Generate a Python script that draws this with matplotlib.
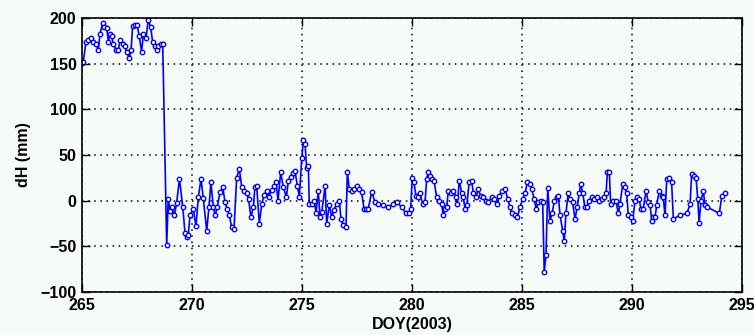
import matplotlib
matplotlib.use("Agg")
from matplotlib import pyplot as plt

# day of year (2003) and height change dH in mm
doy = [
    265.02, 265.06, 265.18, 265.29, 265.40, 265.51, 265.64, 265.74, 265.82, 265.94,
    266.01, 266.12, 266.20, 266.27, 266.35, 266.42, 266.55, 266.65, 266.73, 266.85,
    266.95, 267.03, 267.15, 267.23, 267.30, 267.41, 267.51, 267.60, 267.71, 267.79,
    267.91, 268.01, 268.12, 268.21, 268.32, 268.40, 268.47, 268.58, 268.67, 268.85,
    268.92, 269.00, 269.08, 269.20, 269.30, 269.43, 269.58, 269.68, 269.75, 269.83,
    269.91, 270.06, 270.18, 270.29, 270.41, 270.51, 270.67, 270.77, 270.86, 270.97,
    271.05, 271.15, 271.27, 271.40, 271.50, 271.60, 271.70, 271.80, 271.91, 272.03,
    272.15, 272.26, 272.38, 272.49, 272.57, 272.68, 272.79, 272.86, 272.94, 273.06,
    273.17, 273.27, 273.40, 273.49, 273.62, 273.73, 273.82, 273.91, 274.03, 274.15,
    274.29, 274.38, 274.49, 274.60, 274.68, 274.79, 274.88, 274.99, 275.06, 275.14,
    275.21, 275.29, 275.33, 275.44, 275.55, 275.64, 275.74, 275.82, 275.90, 276.05,
    276.12, 276.24, 276.35, 276.45, 276.58, 276.70, 276.77, 276.88, 277.00, 277.06,
    277.15, 277.26, 277.36, 277.49, 277.60, 277.71, 277.82, 277.91, 278.01, 278.17,
    278.32, 278.47, 278.67, 278.92, 279.15, 279.33, 279.53, 279.73, 279.88, 279.94,
    280.01, 280.09, 280.18, 280.29, 280.36, 280.49, 280.59, 280.67, 280.74, 280.82,
    280.90, 281.00, 281.12, 281.24, 281.35, 281.42, 281.50, 281.58, 281.65, 281.76,
    281.88, 282.00, 282.06, 282.15, 282.26, 282.33, 282.41, 282.49, 282.60, 282.71,
    282.79, 282.91, 283.01, 283.12, 283.24, 283.36, 283.47, 283.62, 283.73, 283.85,
    283.97, 284.08, 284.23, 284.35, 284.45, 284.53, 284.68, 284.79, 284.91, 285.03,
    285.14, 285.24, 285.36, 285.44, 285.55, 285.64, 285.74, 285.85, 285.94, 286.01,
    286.09, 286.17, 286.27, 286.38, 286.47, 286.58, 286.65, 286.73, 286.85, 286.92,
    287.00, 287.10, 287.18, 287.30, 287.41, 287.51, 287.60, 287.67, 287.76, 287.86,
    287.94, 288.06, 288.17, 288.27, 288.40, 288.51, 288.62, 288.73, 288.82, 288.88,
    288.97, 289.03, 289.15, 289.27, 289.38, 289.45, 289.58, 289.68, 289.76, 289.83,
    289.94, 290.03, 290.14, 290.24, 290.33, 290.40, 290.51, 290.64, 290.74, 290.82,
    290.90, 290.97, 291.05, 291.12, 291.24, 291.35, 291.42, 291.50, 291.58, 291.70,
    291.80, 291.88, 292.18, 292.49, 292.64, 292.71, 292.82, 292.91, 292.99, 293.05,
    293.14, 293.24, 293.32, 293.42, 293.97, 294.08, 294.23,
]
dh = [
    151, 152, 174, 176, 178, 174, 172, 165, 183, 194,
    190, 189, 174, 183, 180, 172, 165, 165, 176, 172,
    169, 163, 156, 165, 191, 192, 192, 180, 163, 183,
    178, 198, 190, 174, 169, 165, 169, 171, 171, -49,
    2, -11, -7, -16, -3, 24, -7, -35, -40, -38,
    -16, -9, -28, 4, 24, 3, -33, -7, 20, -7,
    -16, -7, 9, 15, -2, -9, -16, -29, -31, 25,
    35, 15, 11, 8, 2, -18, -7, 15, 16, -25,
    -4, 6, 11, 4, 12, 16, 20, 0, 31, 15,
    4, 22, 26, 30, 33, 16, 4, 47, 66, 62,
    36, 38, -4, -4, 0, -13, 11, -18, -12, 16,
    -25, -5, -18, -10, -4, 0, -20, -27, -29, 31,
    13, 11, 13, 16, 13, 9, -9, -9, -9, 10,
    -2, -4, -5, -7, -4, -2, -7, -14, -14, -9,
    25, 20, 5, 4, 8, -4, -2, 24, 31, 27,
    24, 22, 4, 0, -4, -16, -9, -7, 11, 8,
    11, 4, -4, 22, 8, 4, -9, -5, 20, 22,
    8, 4, 13, 5, 4, 0, -2, 4, 2, -4,
    5, 11, 13, 2, -7, -14, -16, -18, -7, 2,
    8, 20, 18, 13, 2, -9, -2, 0, -2, -78,
    -60, 14, -22, -13, 0, 4, 5, -16, -33, -44,
    -13, 8, 2, -2, -20, -7, 8, 18, 8, -7,
    -7, 0, 4, 2, 4, 0, 2, 4, 8, 31,
    31, -4, 0, 0, -14, -4, 18, 15, 8, -16,
    -18, -22, 0, 4, 2, -9, -9, 11, -2, -5,
    -22, -18, -18, -5, 11, 5, 4, -16, 24, 25,
    20, -20, -16, -14, -4, 29, 27, 25, 2, -24,
    0, 11, -5, -7, -14, 5, 8,
]

bg = "#f6fbf7"
plt.rcParams["font.family"] = ["Liberation Sans", "DejaVu Sans"]

fig = plt.figure(figsize=(7.54, 3.35), dpi=100, facecolor=bg)
ax = fig.add_axes([82 / 754, 1 - 292 / 335, 660 / 754, 274 / 335], facecolor=bg)

ax.plot(doy, dh, color="#0000ff", linewidth=1.2, marker="o", markersize=3.2,
        markerfacecolor="white", markeredgecolor="#0000ff", markeredgewidth=1.0)

ax.set_xlim(265, 295)
ax.set_ylim(-100, 200)
ax.set_xticks(range(265, 296, 5))
ax.set_yticks(range(-100, 201, 50))

ax.grid(True, color="black", linestyle=(0, (1, 3)), linewidth=1.1)
ax.tick_params(direction="in", length=6, width=1, top=True, right=True,
               labelsize=11.5, pad=4)
for lbl in ax.get_xticklabels() + ax.get_yticklabels():
    lbl.set_fontweight("bold")
for sp in ax.spines.values():
    sp.set_linewidth(1.2)

ax.set_xlabel("DOY(2003)", fontsize=11.5, fontweight="bold", labelpad=3)
ax.set_ylabel("dH (mm)", fontsize=11.5, fontweight="bold", labelpad=7)

fig.savefig("out.png", dpi=100, facecolor=bg)
